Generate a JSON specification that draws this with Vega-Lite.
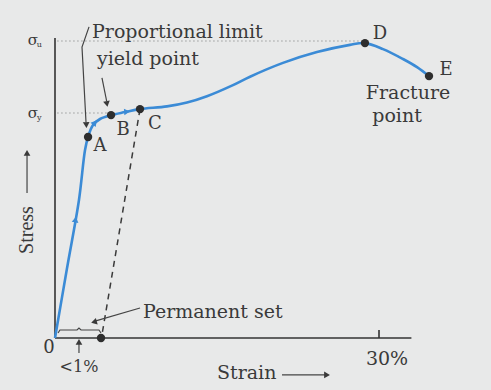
{
  "$schema": "https://vega.github.io/schema/vega-lite/v6.json",
  "autosize": {"type": "none"},
  "padding": {"left": 55, "top": 38, "right": 0, "bottom": 52},
  "width": 436,
  "height": 300,
  "background": "#e8e9e9",
  "config": {"view": {"stroke": null}},
  "datasets": {
    "curve": [
      {"strain": 0, "stress": 0},
      {"strain": 1.1, "stress": 23},
      {"strain": 2.22, "stress": 46},
      {"strain": 2.78, "stress": 62.7},
      {"strain": 3.06, "stress": 67},
      {"strain": 3.52, "stress": 71},
      {"strain": 4.17, "stress": 73},
      {"strain": 5.19, "stress": 74.3},
      {"strain": 6.48, "stress": 75.3},
      {"strain": 7.87, "stress": 76.3},
      {"strain": 10.37, "stress": 77.2},
      {"strain": 12.22, "stress": 78.5},
      {"strain": 14.07, "stress": 80.6},
      {"strain": 16.48, "stress": 84.3},
      {"strain": 18.06, "stress": 87.1},
      {"strain": 21.11, "stress": 91.7},
      {"strain": 24.26, "stress": 95.3},
      {"strain": 27.31, "stress": 97.7},
      {"strain": 28.7, "stress": 98.3},
      {"strain": 30.37, "stress": 96.3},
      {"strain": 32.22, "stress": 93},
      {"strain": 33.52, "stress": 90.3},
      {"strain": 34.63, "stress": 87.3}
    ],
    "dots": [
      {"name": "A", "strain": 3.06, "stress": 67},
      {"name": "B", "strain": 5.19, "stress": 74.3},
      {"name": "C", "strain": 7.87, "stress": 76.3},
      {"name": "D", "strain": 28.7, "stress": 98.3},
      {"name": "E", "strain": 34.63, "stress": 87.3},
      {"name": "set", "strain": 4.26, "stress": 0}
    ],
    "segs": [
      {"kind": "axis", "id": "yaxis", "ord": 0, "strain": 0, "stress": 0},
      {"kind": "axis", "id": "yaxis", "ord": 1, "strain": 0, "stress": 100},
      {"kind": "axis", "id": "xaxis", "ord": 0, "strain": 0, "stress": 0},
      {"kind": "axis", "id": "xaxis", "ord": 1, "strain": 33, "stress": 0},
      {"kind": "axis", "id": "tick", "ord": 0, "strain": 30, "stress": 0},
      {"kind": "axis", "id": "tick", "ord": 1, "strain": 30, "stress": 2.7},
      {"kind": "note", "id": "prop", "ord": 0, "strain": 3.15, "stress": 103.7},
      {"kind": "note", "id": "prop", "ord": 1, "strain": 2.5, "stress": 97},
      {"kind": "note", "id": "prop", "ord": 2, "strain": 2.87, "stress": 72},
      {"kind": "note", "id": "yield", "ord": 0, "strain": 4.35, "stress": 86.7},
      {"kind": "note", "id": "yield", "ord": 1, "strain": 4.78, "stress": 79},
      {"kind": "note", "id": "perm", "ord": 0, "strain": 7.87, "stress": 10},
      {"kind": "note", "id": "perm", "ord": 1, "strain": 3.7, "stress": 5.6},
      {"kind": "note", "id": "lt1", "ord": 0, "strain": 2.22, "stress": -5},
      {"kind": "note", "id": "lt1", "ord": 1, "strain": 2.22, "stress": -1.5},
      {"kind": "note", "id": "strainArrow", "ord": 0, "strain": 21.02, "stress": -12.3},
      {"kind": "note", "id": "strainArrow", "ord": 1, "strain": 25, "stress": -12.3},
      {"kind": "note", "id": "stressArrow", "ord": 0, "strain": -2.59, "stress": 48.3},
      {"kind": "note", "id": "stressArrow", "ord": 1, "strain": -2.59, "stress": 61},
      {"kind": "note", "id": "brace", "ord": 0, "strain": 0.28, "stress": 1.67},
      {"kind": "note", "id": "brace", "ord": 1, "strain": 0.46, "stress": 2.67},
      {"kind": "note", "id": "brace", "ord": 2, "strain": 2.04, "stress": 2.67},
      {"kind": "note", "id": "brace", "ord": 3, "strain": 2.22, "stress": 3.33},
      {"kind": "note", "id": "brace", "ord": 4, "strain": 2.41, "stress": 2.67},
      {"kind": "note", "id": "brace", "ord": 5, "strain": 4.07, "stress": 2.67},
      {"kind": "note", "id": "brace", "ord": 6, "strain": 4.26, "stress": 1.67},
      {"kind": "dash", "id": "unload", "ord": 0, "strain": 7.87, "stress": 76.3},
      {"kind": "dash", "id": "unload", "ord": 1, "strain": 4.3, "stress": 0},
      {"kind": "dot", "id": "su", "ord": 0, "strain": 0.2, "stress": 99},
      {"kind": "dot", "id": "su", "ord": 1, "strain": 28.7, "stress": 99},
      {"kind": "dot", "id": "sy", "ord": 0, "strain": 0.2, "stress": 75},
      {"kind": "dot", "id": "sy", "ord": 1, "strain": 5.19, "stress": 75}
    ],
    "heads": [
      {"id": "lt1", "strain": 2.22, "stress": -1.3},
      {"id": "stressArrow", "strain": -2.59, "stress": 61.7},
      {"id": "prop", "strain": 2.9, "stress": 71},
      {"id": "yield", "strain": 4.81, "stress": 78},
      {"id": "perm", "strain": 3.61, "stress": 5.33},
      {"id": "strainArrow", "strain": 25.19, "stress": -12.3},
      {"id": "curve1", "strain": 1.9, "stress": 39.5},
      {"id": "curve2", "strain": 3.7, "stress": 71.8},
      {"id": "curve3", "strain": 6.67, "stress": 75.4}
    ],
    "labels": [
      {"text": "Proportional limit", "kind": "left", "strain": 3.43, "stress": 100},
      {"text": "yield point", "kind": "left", "strain": 3.89, "stress": 91},
      {"text": "Permanent set", "kind": "left", "strain": 8.15, "stress": 6.67},
      {"text": "Strain", "kind": "left", "strain": 15, "stress": -13.7},
      {"text": "Fracture", "kind": "center", "strain": 32.69, "stress": 79.7},
      {"text": "point", "kind": "center", "strain": 31.67, "stress": 72},
      {"text": "30%", "kind": "center", "strain": 30.74, "stress": -9},
      {"text": "A", "kind": "letter", "strain": 4.17, "stress": 62.2},
      {"text": "B", "kind": "letter", "strain": 6.3, "stress": 67.8},
      {"text": "C", "kind": "letter", "strain": 9.26, "stress": 69.8},
      {"text": "D", "kind": "letter", "strain": 30.09, "stress": 99.8},
      {"text": "E", "kind": "letter", "strain": 36.2, "stress": 87.8},
      {"text": "0", "kind": "letter", "strain": -0.56, "stress": -5},
      {"text": "<1%", "kind": "small", "strain": 2.22, "stress": -11.3},
      {"text": "σ", "kind": "sigma", "strain": -2.04, "stress": 97.8},
      {"text": "σ", "kind": "sigma", "strain": -2.04, "stress": 73.5},
      {"text": "u", "kind": "sub", "strain": -1.45, "stress": 97},
      {"text": "y", "kind": "sub", "strain": -1.45, "stress": 72.7},
      {"text": "Stress", "kind": "rot", "strain": -2.59, "stress": 36}
    ]
  },
  "encoding": {
    "x": {"field": "strain", "type": "quantitative", "scale": {"domain": [0, 40.37], "nice": false, "zero": false}, "axis": null},
    "y": {"field": "stress", "type": "quantitative", "scale": {"domain": [0, 100], "nice": false, "zero": false}, "axis": null}
  },
  "layer": [
    {
      "data": {"name": "segs"},
      "transform": [{"filter": "datum.kind === 'dot'"}],
      "mark": {"type": "line", "color": "#9a9c9c", "strokeWidth": 1, "strokeDash": [1.5, 2.5]},
      "encoding": {"detail": {"field": "id"}, "order": {"field": "ord"}}
    },
    {
      "data": {"name": "segs"},
      "transform": [{"filter": "datum.kind === 'dash'"}],
      "mark": {"type": "line", "color": "#3a3a3a", "strokeWidth": 1.5, "strokeDash": [6, 5]},
      "encoding": {"detail": {"field": "id"}, "order": {"field": "ord"}}
    },
    {
      "data": {"name": "segs"},
      "transform": [{"filter": "datum.kind === 'axis'"}],
      "mark": {"type": "line", "color": "#333333", "strokeWidth": 1.6},
      "encoding": {"detail": {"field": "id"}, "order": {"field": "ord"}}
    },
    {
      "data": {"name": "segs"},
      "transform": [{"filter": "datum.kind === 'note'"}],
      "mark": {"type": "line", "color": "#444444", "strokeWidth": 1.2},
      "encoding": {"detail": {"field": "id"}, "order": {"field": "ord"}}
    },
    {
      "data": {"name": "curve"},
      "mark": {"type": "line", "color": "#3b8bd6", "strokeWidth": 2.6, "interpolate": "catmull-rom"},
      "encoding": {}
    },
    {
      "data": {"name": "heads"},
      "transform": [{"filter": "datum.id === 'lt1' || datum.id === 'stressArrow'"}],
      "mark": {"type": "point", "shape": "triangle-up", "filled": true, "color": "#3a3a3a", "size": 45, "opacity": 1}
    },
    {
      "data": {"name": "heads"},
      "transform": [{"filter": "datum.id === 'prop'"}],
      "mark": {"type": "point", "shape": "triangle-down", "filled": true, "color": "#3a3a3a", "size": 45, "opacity": 1, "angle": -3}
    },
    {
      "data": {"name": "heads"},
      "transform": [{"filter": "datum.id === 'yield'"}],
      "mark": {"type": "point", "shape": "triangle-down", "filled": true, "color": "#3a3a3a", "size": 45, "opacity": 1, "angle": -10}
    },
    {
      "data": {"name": "heads"},
      "transform": [{"filter": "datum.id === 'perm'"}],
      "mark": {"type": "point", "shape": "triangle-left", "filled": true, "color": "#3a3a3a", "size": 45, "opacity": 1, "angle": -16}
    },
    {
      "data": {"name": "heads"},
      "transform": [{"filter": "datum.id === 'strainArrow'"}],
      "mark": {"type": "point", "shape": "triangle-right", "filled": true, "color": "#3a3a3a", "size": 45, "opacity": 1}
    },
    {
      "data": {"name": "heads"},
      "transform": [{"filter": "datum.id === 'curve1'"}],
      "mark": {"type": "point", "shape": "triangle-up", "filled": true, "color": "#3b8bd6", "size": 45, "opacity": 1, "angle": 9}
    },
    {
      "data": {"name": "heads"},
      "transform": [{"filter": "datum.id === 'curve2'"}],
      "mark": {"type": "point", "shape": "triangle-up", "filled": true, "color": "#3b8bd6", "size": 45, "opacity": 1, "angle": 40}
    },
    {
      "data": {"name": "heads"},
      "transform": [{"filter": "datum.id === 'curve3'"}],
      "mark": {"type": "point", "shape": "triangle-right", "filled": true, "color": "#3b8bd6", "size": 45, "opacity": 1, "angle": -4}
    },
    {
      "data": {"name": "dots"},
      "mark": {"type": "point", "shape": "circle", "filled": true, "color": "#2e2e2e", "size": 70, "opacity": 1}
    },
    {
      "data": {"name": "labels"},
      "transform": [{"filter": "datum.kind === 'left'"}],
      "mark": {"type": "text", "font": "DejaVu Serif", "fontSize": 19, "align": "left", "baseline": "alphabetic", "color": "#3a3a3a"},
      "encoding": {"text": {"field": "text"}}
    },
    {
      "data": {"name": "labels"},
      "transform": [{"filter": "datum.kind === 'center'"}],
      "mark": {"type": "text", "font": "DejaVu Serif", "fontSize": 19, "align": "center", "baseline": "alphabetic", "color": "#3a3a3a"},
      "encoding": {"text": {"field": "text"}}
    },
    {
      "data": {"name": "labels"},
      "transform": [{"filter": "datum.kind === 'letter'"}],
      "mark": {"type": "text", "font": "DejaVu Serif", "fontSize": 18, "align": "center", "baseline": "alphabetic", "color": "#3a3a3a"},
      "encoding": {"text": {"field": "text"}}
    },
    {
      "data": {"name": "labels"},
      "transform": [{"filter": "datum.kind === 'small'"}],
      "mark": {"type": "text", "font": "DejaVu Serif", "fontSize": 16, "align": "center", "baseline": "alphabetic", "color": "#3a3a3a"},
      "encoding": {"text": {"field": "text"}}
    },
    {
      "data": {"name": "labels"},
      "transform": [{"filter": "datum.kind === 'sigma'"}],
      "mark": {"type": "text", "font": "DejaVu Serif", "fontSize": 15, "align": "center", "baseline": "alphabetic", "color": "#3a3a3a"},
      "encoding": {"text": {"field": "text"}}
    },
    {
      "data": {"name": "labels"},
      "transform": [{"filter": "datum.kind === 'sub'"}],
      "mark": {"type": "text", "font": "DejaVu Serif", "fontSize": 8, "align": "center", "baseline": "alphabetic", "color": "#3a3a3a"},
      "encoding": {"text": {"field": "text"}}
    },
    {
      "data": {"name": "labels"},
      "transform": [{"filter": "datum.kind === 'rot'"}],
      "mark": {"type": "text", "font": "Liberation Serif", "fontSize": 20, "align": "center", "baseline": "middle", "angle": 270, "color": "#3a3a3a"},
      "encoding": {"text": {"field": "text"}}
    }
  ]
}
